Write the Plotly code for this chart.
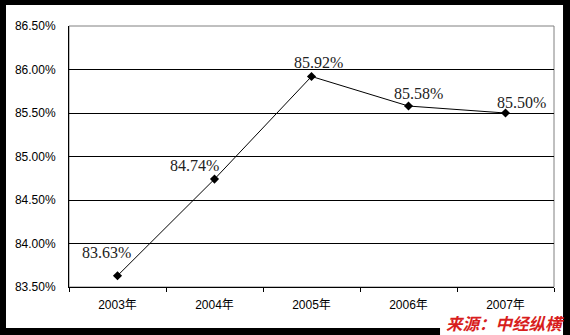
import plotly.graph_objects as go

years = ["2003年", "2004年", "2005年", "2006年", "2007年"]
values = [83.63, 84.74, 85.92, 85.58, 85.50]
label_texts = ["83.63%", "84.74%", "85.92%", "85.58%", "85.50%"]
y_ticks = [83.5, 84.0, 84.5, 85.0, 85.5, 86.0, 86.5]
y_tick_labels = ["83.50%", "84.00%", "84.50%", "85.00%", "85.50%", "86.00%", "86.50%"]
# label offsets in pixels (style)
label_dx = [-11, -20, 7, 10, 16]
label_dy = [23, 14, 14, 13, 11]

fig = go.Figure()
fig.add_trace(go.Scatter(
    x=years, y=values, mode="lines+markers",
    line=dict(color="black", width=1),
    marker=dict(symbol="diamond", size=7, color="black"),
    hoverinfo="skip", showlegend=False, cliponaxis=False,
))

for i, (xv, yv) in enumerate(zip(years, values)):
    fig.add_annotation(
        x=xv, y=yv, text=label_texts[i], showarrow=False,
        xshift=label_dx[i], yshift=label_dy[i],
        font=dict(family="Liberation Serif", size=16, color="#222"),
    )

# white inner card over black paper
fig.add_shape(type="rect", xref="paper", yref="paper",
              x0=-0.1299, x1=1.0186, y0=-0.157, y1=1.0805,
              fillcolor="white", line=dict(width=0), layer="below")
# white patch behind the watermark (covers bottom border there)
fig.add_shape(type="rect", xref="paper", yref="paper",
              x0=0.765, x1=1.0186, y0=-0.19, y1=-0.15,
              fillcolor="white", line=dict(width=0), layer="below")
# plot border (gray top/right)
fig.add_shape(type="rect", xref="paper", yref="paper",
              x0=0, x1=1, y0=0, y1=1,
              fillcolor="rgba(0,0,0,0)", line=dict(color="#808080", width=1), layer="below")

fig.add_annotation(
    xref="paper", yref="paper", x=1.0227, y=-0.1398, xanchor="right", yanchor="middle",
    text="<b><i>来源：中经纵横</i></b>", showarrow=False,
    font=dict(family="Noto Sans CJK SC", size=16.5, color="#d81e1e"),
    borderpad=0,
)

fig.update_layout(
    width=570, height=335,
    margin=dict(l=69, r=16, t=26, b=48),
    paper_bgcolor="black",
    plot_bgcolor="rgba(0,0,0,0)",
    font=dict(family="Liberation Sans, Noto Sans CJK SC", size=12, color="black"),
    xaxis=dict(
        type="category", range=[-0.5, len(years) - 0.5],
        showgrid=False, showline=True, linecolor="black", linewidth=1,
        ticks="outside", tickson="boundaries", ticklen=4, tickcolor="black",
        ticklabelstandoff=7,
        tickfont=dict(family="Liberation Sans, Noto Sans CJK SC", size=12, color="black"),
        zeroline=False, fixedrange=True,
    ),
    yaxis=dict(
        range=[83.5, 86.5], tickvals=y_ticks, ticktext=y_tick_labels,
        showgrid=True, gridcolor="black", gridwidth=1,
        showline=True, linecolor="black", linewidth=1,
        ticks="", ticklabelstandoff=10, zeroline=False, fixedrange=True,
    ),
)

fig.write_html("out.html")
